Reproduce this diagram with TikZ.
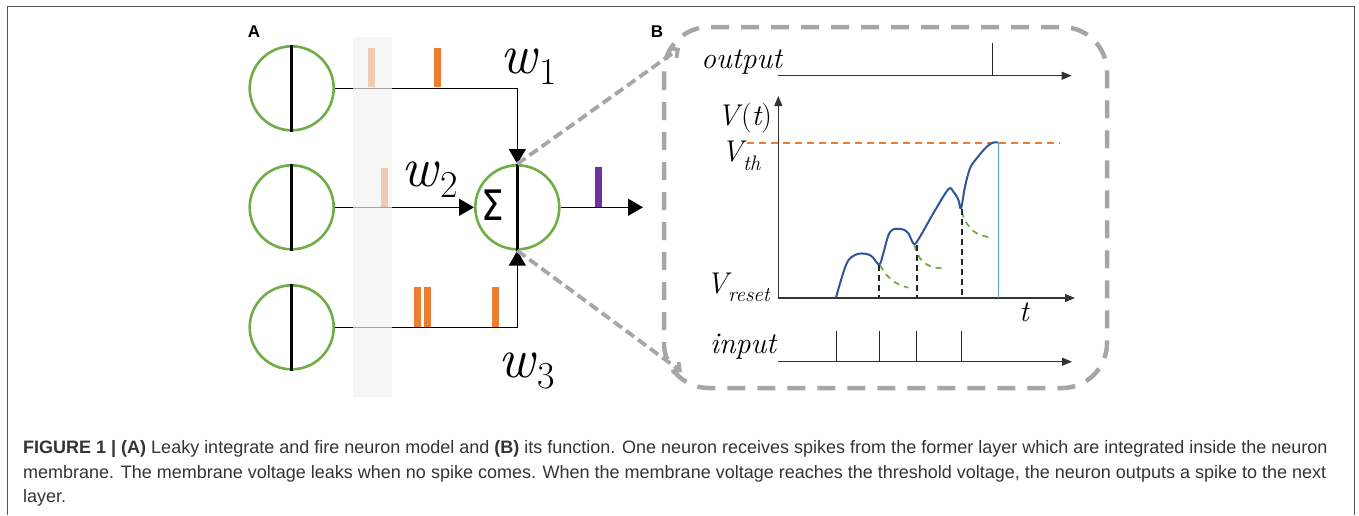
\documentclass[tikz,border=0pt]{standalone}
\usepackage{fontspec}
\newfontfamily\capfont{Liberation Sans}
\newfontfamily\dejavu{DejaVu Sans}
\usetikzlibrary{arrows.meta}
\definecolor{lgreen}{HTML}{70AD47}
\definecolor{sporange}{HTML}{ED7D31}
\definecolor{sppurple}{HTML}{7030A0}
\definecolor{cblue}{HTML}{2F5597}
\definecolor{lblue}{HTML}{5B9BD5}
\definecolor{zgray}{HTML}{A6A6A6}
\definecolor{framec}{HTML}{555555}
\definecolor{capc}{HTML}{333333}
\newcommand\subs[2]{{\fontsize{21}{21}\selectfont\raisebox{-#1}{\itshape #2}}}
\newcommand\wsub[2]{{\fontsize{38}{38}\selectfont\raisebox{-#1}{#2}}}
\tikzset{
  neuron/.style={circle, draw=lgreen, line width=2.6pt, minimum size=84pt, inner sep=0pt},
  bar/.style={line width=3pt, black},
  conn/.style={line width=1.5pt, black},
  bigtip/.style={-{Triangle[length=15pt,width=17pt]}},
  spike/.style={line width=7pt, sporange},
  zoomline/.style={line width=3.8pt, zgray, dash pattern=on 10pt off 5pt, -{Straight Barb[length=6pt,width=12pt]}},
  boxdash/.style={line width=4.5pt, zgray, dash pattern=on 18pt off 12pt, rounded corners=45pt},
  axis/.style={line width=1.3pt, black!80, -{Triangle[length=10pt,width=8pt]}},
  tick/.style={line width=1pt, black!85},
  mlabel/.style={inner sep=0pt, anchor=base west, font=\fontsize{30}{30}\selectfont\itshape},
  wlabel/.style={inner sep=0pt, anchor=base west, font=\fontsize{56}{56}\selectfont},
  caption/.style={inner sep=0pt, anchor=base west, text=capc, font=\capfont\fontsize{18}{20}\selectfont},
  panel/.style={inner sep=0pt, font=\capfont\bfseries\fontsize{17}{17}\selectfont},
}
\begin{document}
\begin{tikzpicture}[x=1pt,y=-1pt]
\useasboundingbox (0,0) rectangle (1359,515);
% frame
\draw[framec, line width=1.5pt] (7.3,515) -- (7.3,6.7) -- (1354.3,6.7) -- (1354.3,515);

% ---------------- Panel A ----------------
\node[panel] (lA) at (254,32) {A};
\node[neuron] (n1) at (291.7,88.3) {};
\node[neuron] (n2) at (291.7,207.3) {};
\node[neuron] (n3) at (291.7,327.3) {};
\node[neuron] (sum) at (517.3,207.3) {};
\foreach \n in {n1,n2,n3,sum} \draw[bar] (\n.north) -- (\n.south);
\node[inner sep=0pt, font=\dejavu\fontsize{42}{42}\selectfont] (sig) at (492.5,205) {\scalebox{0.85}[1]{Σ}};

\draw[conn, bigtip] (n1.east) -| (sum.north);
\draw[conn, bigtip] (n2.east) -- (sum.west);
\draw[conn, bigtip] (n3.east) -| (sum.south);
\coordinate (outA) at (643,207.3);
\draw[conn, bigtip] (sum.east) -- (outA);

% spikes
\draw[spike] (371.7,87.3) -- (371.7,48);
\draw[spike] (437,87.3) -- (437,48);
\draw[spike] (384,206.5) -- (384,168);
\draw[spike] (417.7,326.5) -- (417.7,287);
\draw[spike] (427.7,326.5) -- (427.7,287);
\draw[spike] (495,326.5) -- (495,287);
\draw[line width=7pt, sppurple] (598.3,206.5) -- (598.3,167);

% shaded column
\fill[fill={rgb,255:red,242;green,242;blue,242}, opacity=0.67] (353,37) rectangle (392,397);

% weights
\node[wlabel] (w1) at (500,73) {\textit{w}\kern1pt\wsub{11pt}{1}};
\node[wlabel] (w2) at (401,186.7) {\textit{w}\kern1pt\wsub{11pt}{2}};
\node[wlabel] (w3) at (498,377) {\textit{w}\kern1pt\wsub{11pt}{3}};

% zoom lines
\coordinate (bTL) at (680,48);
\coordinate (bBL) at (682,372);
\draw[zoomline] (sum.north) -- (bTL);
\draw[zoomline] (sum.south) -- (bBL);

% ---------------- Panel B ----------------
\node[panel] (lB) at (657,32) {B};
\draw[boxdash] (664,27) rectangle (1107,388);

% output
\node[mlabel] (lout) at (701,68.3) {output};
\coordinate (o0) at (778,75.7);
\coordinate (o1) at (1071.7,75.7);
\draw[axis] (o0) -- (o1);
\draw[tick] (992.7,42.7) -- (992.7,75.7);

% V(t) axes
\coordinate (O) at (778.3,298);
\coordinate (Vtop) at (778.3,96);
\coordinate (tend) at (1075,298);
\draw[axis] (O) -- (Vtop);
\draw[axis] (O) -- (tend);
\node[mlabel] (lV) at (717,125) {V\kern2pt{\upshape(}t{\upshape)}};
\node[mlabel] (lVth) at (721,161.7) {V\kern0pt\subs{8.3pt}{th}};
\node[mlabel] (lVr) at (706,293.3) {V\kern0pt\subs{8.4pt}{reset}};
\node[mlabel] (lt) at (1019,321.7) {t};

% threshold
\draw[sporange, line width=1.6pt, dash pattern=on 7pt off 5pt] (746.7,142.7) -- (1060,142.7);

% leak curves
\tikzset{leak/.style={lgreen, line width=1.8pt, dash pattern=on 6pt off 5pt}}
\draw[leak] plot[smooth, tension=0.7] coordinates {(880,265) (886.7,275) (896.7,283.3) (908.3,287.7)};
\draw[leak] plot[smooth, tension=0.7] coordinates {(914.5,245) (920,258.3) (930,266) (941.7,268.3)};
\draw[leak] plot[smooth, tension=0.7] coordinates {(961.7,211.7) (966.7,223.3) (976.7,233.3) (991.7,237.7)};

% dashed verticals
\tikzset{vdash/.style={black!85, line width=2pt, dash pattern=on 6pt off 4pt}}
\draw[vdash] (879.3,265) -- (879.3,298);
\draw[vdash] (916.5,245) -- (916.5,298);
\draw[vdash] (961.7,209) -- (961.7,298);

% blue vertical
\draw[lblue, line width=1.3pt] (998.3,142.5) -- (998.3,298);

% membrane curve
\draw[cblue, line width=2pt] plot[smooth, tension=0.55] coordinates {
 (836,297.5) (846.7,263.3) (856.7,254.3) (866.7,254) (872.5,257) (879.3,264.5)
 (883.3,253.3) (888.3,235.5) (893.3,229.3) (903,229.5) (908.5,233.5) (914,244)
 (920,236.7) (933.3,213.3) (948.3,189.3) (953.3,191.7) (958.3,199.5) (961,208.3)
 (965,186.7) (970,168.3) (976.7,158.3) (986.7,146.7) (993.3,142.5) (998.3,142.5)};

% input
\node[mlabel] (lin) at (710,353.3) {input};
\coordinate (i0) at (778,361.7);
\coordinate (i1) at (1072,361.7);
\draw[axis] (i0) -- (i1);
\foreach \x in {836,879.3,916.7,961.7} \draw[tick] (\x,330.7) -- (\x,361.7);

% ---------------- Caption ----------------
\node[caption] (cap1) at (23,453) {\textbf{FIGURE 1 | (A)} Leaky integrate and fire neuron model and \textbf{(B)} its function. One neuron receives spikes from the former layer which are integrated inside the neuron};
\node[caption] (cap2) at (23,478) {membrane. The membrane voltage leaks when no spike comes. When the membrane voltage reaches the threshold voltage, the neuron outputs a spike to the next};
\node[caption] (cap3) at (23,502) {layer.};
\end{tikzpicture}
\end{document}
